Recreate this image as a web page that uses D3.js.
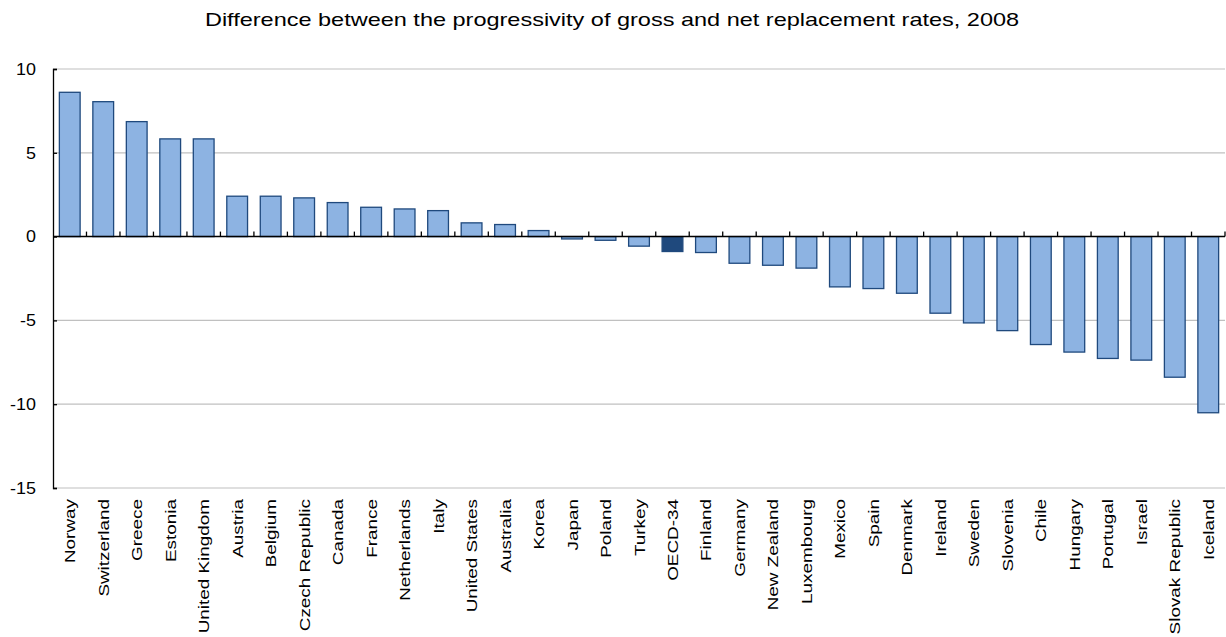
<!DOCTYPE html>
<html><head><meta charset="utf-8">
<script src="https://cdn.jsdelivr.net/npm/d3@7"></script>
<style>body{margin:0;background:#fff}svg{display:block}text{font-family:"Liberation Sans",Arial,sans-serif}</style>
</head><body>
<script>
const title = "Difference between the progressivity of gross and net replacement rates, 2008";
const countries = ["Norway","Switzerland","Greece","Estonia","United Kingdom","Austria","Belgium","Czech Republic","Canada","France","Netherlands","Italy","United States","Australia","Korea","Japan","Poland","Turkey","OECD-34","Finland","Germany","New Zealand","Luxembourg","Mexico","Spain","Denmark","Ireland","Sweden","Slovenia","Chile","Hungary","Portugal","Israel","Slovak Republic","Iceland"];
const values = [8.61,8.05,6.86,5.83,5.83,2.41,2.41,2.31,2.03,1.75,1.65,1.55,0.82,0.72,0.36,-0.14,-0.22,-0.57,-0.89,-0.95,-1.59,-1.71,-1.88,-3.0,-3.1,-3.38,-4.57,-5.15,-5.61,-6.44,-6.89,-7.27,-7.37,-8.39,-10.51];
const highlight = ["OECD-34"];
const yTicks = [10,5,0,-5,-10,-15];
const yTickLabels = ["10","5","0","-5","-10","-15"];

const W = 1226, H = 637;
const m = {left:53, right:1225, top:69, bottom:488};
const svg = d3.select("body").append("svg").attr("width",W).attr("height",H);

const x = d3.scaleBand().domain(countries).range([m.left, m.right]).paddingInner(0.38).paddingOuter(0.19);
const xEdge = d3.scaleBand().domain(countries).range([m.left, m.right]).padding(0);
const y = d3.scaleLinear().domain([-15,10]).range([m.bottom, m.top]);

svg.append("text").attr("transform","translate(612,26) scale(1.25,1)").attr("text-anchor","middle")
  .attr("font-size", 18.8).attr("fill","#000").text(title);

// gridlines
svg.append("g").selectAll("line").data(yTicks.filter(d=>d!==0)).join("line")
  .attr("x1", m.left).attr("x2", m.right).attr("y1", d=>y(d)).attr("y2", d=>y(d))
  .attr("stroke","#C0C0C0").attr("stroke-width",1.2);

// bars
svg.append("g").selectAll("rect").data(countries).join("rect")
  .attr("x", d=>x(d)).attr("width", x.bandwidth())
  .attr("y", (d,i)=>y(Math.max(0, values[i])))
  .attr("height", (d,i)=>Math.abs(y(values[i]) - y(0)))
  .attr("fill", d=>highlight.includes(d) ? "#1F497D" : "#8DB3E2")
  .attr("stroke", "#1F497D").attr("stroke-width", 1.3);

// y axis
const yAxis = d3.axisLeft(y).tickValues(yTicks).tickSize(-4).tickFormat("");
const gy = svg.append("g").attr("transform",`translate(${m.left},0)`).call(yAxis);
gy.select(".domain").attr("stroke","#000").attr("stroke-width",1.3);
gy.selectAll(".tick line").attr("stroke","#000").attr("stroke-width",1.3);
svg.append("g").selectAll("text").data(yTicks).join("text")
  .attr("transform", d=>`translate(36,${y(d)+5.8}) scale(1.1,1)`)
  .attr("text-anchor","end").attr("font-size",16.3).attr("fill","#000").text((d,i)=>yTickLabels[i]);

// zero line with ticks at band boundaries
const g0 = svg.append("g");
g0.append("line").attr("x1", m.left).attr("x2", m.right).attr("y1", y(0)).attr("y2", y(0)).attr("stroke","#000").attr("stroke-width",1.5);
g0.selectAll("line.t").data(countries).join("line").attr("class","t")
  .attr("x1", d=>xEdge(d)+xEdge.bandwidth()).attr("x2", d=>xEdge(d)+xEdge.bandwidth())
  .attr("y1", y(0)).attr("y2", y(0)-5).attr("stroke","#000").attr("stroke-width",1.3);

// category labels
svg.append("g").selectAll("text").data(countries).join("text")
  .attr("transform", d=>`translate(${x(d)+x.bandwidth()/2+5.5},${m.bottom+11}) rotate(-90) scale(1.26,1)`)
  .attr("text-anchor","end").attr("font-size",15).attr("fill","#000").text(d=>d);
</script>
</body></html>
